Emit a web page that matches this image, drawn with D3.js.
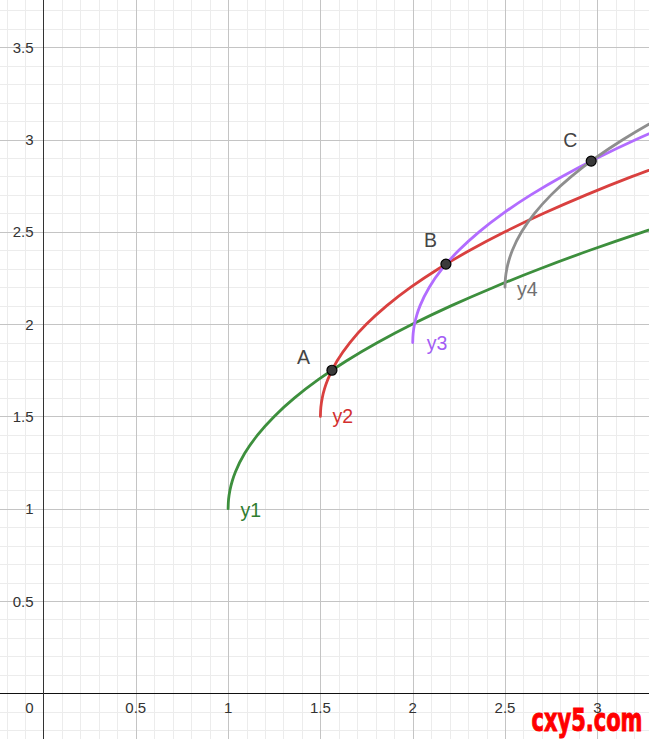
<!DOCTYPE html>
<html><head><meta charset="utf-8">
<script src="https://cdn.jsdelivr.net/npm/d3@7"></script>
<style>html,body{margin:0;padding:0;background:#fff;overflow:hidden}svg{display:block}</style>
</head><body>
<script>
// ---- data ----
const xTicks = [0.5, 1, 1.5, 2, 2.5, 3];
const yTicks = [0.5, 1, 1.5, 2, 2.5, 3, 3.5];
const curveY1 = [[1,1],[1.0025,1.05],[1.01,1.1],[1.0225,1.15],[1.04,1.2],[1.09,1.3],[1.16,1.4],[1.25,1.5],[1.36,1.6],[1.49,1.7],[1.64,1.8],[1.81,1.9],[2,2],[2.21,2.1],[2.44,2.2],[2.69,2.3],[2.96,2.4],[3.25,2.5],[3.56,2.6]];
const curveY2 = [[1.5,1.5],[1.5025,1.55],[1.51,1.6],[1.5225,1.65],[1.54,1.7],[1.59,1.8],[1.66,1.9],[1.75,2],[1.86,2.1],[1.99,2.2],[2.14,2.3],[2.31,2.4],[2.5,2.5],[2.71,2.6],[2.94,2.7],[3.19,2.8],[3.46,2.9]];
const curveY3 = [[2,1.9],[2.0025,1.95],[2.01,2],[2.0225,2.05],[2.04,2.1],[2.09,2.2],[2.16,2.3],[2.25,2.4],[2.36,2.5],[2.49,2.6],[2.64,2.7],[2.81,2.8],[3,2.9],[3.21,3],[3.44,3.1]];
const curveY4 = [[2.5,2.2],[2.5025,2.25],[2.51,2.3],[2.5225,2.35],[2.54,2.4],[2.59,2.5],[2.66,2.6],[2.75,2.7],[2.86,2.8],[2.99,2.9],[3.14,3],[3.31,3.1],[3.5,3.2]];
const curveNames = ["y1", "y2", "y3", "y4"];
const pointNames = ["A", "B", "C"];
const pointXY = [[1.5625,1.75],[2.18,2.325],[2.967,2.883]];

// ---- style / layout ----
const W = 649, H = 739;
const x0px = 43.5, y0px = 693.3, unit = 184.6;
const curveColors = ["#3d8f3d", "#d9403f", "#b26cff", "#8e8e8e"];
const labelColors = ["#2f7d2f", "#d32f2f", "#a35cf5", "#707070"];
const curveLabelOffsets = [[12.5, 8], [12, 6.5], [14, 7.5], [12, 9]];
const pointLabelOffsets = [[-35,-6],[-22,-17],[-28,-14]];

const x = d3.scaleLinear().domain([0, 1]).range([x0px, x0px + unit]);
const y = d3.scaleLinear().domain([0, 1]).range([y0px, y0px - unit]);
const xMin = x.invert(0), xMax = x.invert(W), yMin = y.invert(H), yMax = y.invert(0);

const svg = d3.select("body").append("svg").attr("width", W).attr("height", H)
  .style("font-family", "'Liberation Sans', Arial, sans-serif");

// minor grid
const minorX = d3.range(Math.ceil(xMin*10), Math.floor(xMax*10)+1).map(d => d/10).filter(d => Math.round(d*10) % 5 !== 0);
const minorY = d3.range(Math.ceil(yMin*10), Math.floor(yMax*10)+1).map(d => d/10).filter(d => Math.round(d*10) % 5 !== 0);
const g = svg.append("g").attr("shape-rendering", "crispEdges");
g.selectAll(".mx").data(minorX).join("line").attr("x1", d => Math.round(x(d))+0.5).attr("x2", d => Math.round(x(d))+0.5)
  .attr("y1", 0).attr("y2", H).attr("stroke", "#ececec").attr("stroke-width", 1);
g.selectAll(".my").data(minorY).join("line").attr("y1", d => Math.round(y(d))+0.5).attr("y2", d => Math.round(y(d))+0.5)
  .attr("x1", 0).attr("x2", W).attr("stroke", "#ececec").attr("stroke-width", 1);
// major grid
const majorX = d3.range(Math.ceil(xMin*2), Math.floor(xMax*2)+1).map(d => d/2).filter(d => d !== 0);
const majorY = d3.range(Math.ceil(yMin*2), Math.floor(yMax*2)+1).map(d => d/2).filter(d => d !== 0);
g.selectAll(".Mx").data(majorX).join("line").attr("x1", d => Math.round(x(d))+0.5).attr("x2", d => Math.round(x(d))+0.5)
  .attr("y1", 0).attr("y2", H).attr("stroke", "#c4c4c4").attr("stroke-width", 1);
g.selectAll(".My").data(majorY).join("line").attr("y1", d => Math.round(y(d))+0.5).attr("y2", d => Math.round(y(d))+0.5)
  .attr("x1", 0).attr("x2", W).attr("stroke", "#c4c4c4").attr("stroke-width", 1);
// axes
g.append("line").attr("x1", 0).attr("x2", W).attr("y1", y(0)).attr("y2", y(0)).attr("stroke", "#111").attr("stroke-width", 1.5);
g.append("line").attr("x1", x(0)).attr("x2", x(0)).attr("y1", 0).attr("y2", H).attr("stroke", "#333").attr("stroke-width", 1.5);

// tick labels
svg.selectAll(".xt").data(xTicks).join("text").attr("x", d => x(d)).attr("y", y(0) + 19.5)
  .attr("text-anchor", "middle").attr("font-size", 15).attr("fill", "#333").text(d => d);
svg.selectAll(".yt").data(yTicks).join("text").attr("x", x(0) - 10).attr("y", d => y(d) + 5.5)
  .attr("text-anchor", "end").attr("font-size", 15).attr("fill", "#333").text(d => d);
svg.append("text").attr("x", x(0) - 10).attr("y", y(0) + 19.5).attr("text-anchor", "end")
  .attr("font-size", 15).attr("fill", "#333").text("0");

// curves
const curves = [curveY1, curveY2, curveY3, curveY4];
const line = d3.line().x(d => x(d[0])).y(d => y(d[1])).curve(d3.curveMonotoneY);
curves.forEach((c, i) => {
  svg.append("path").attr("d", line(c)).attr("fill", "none").attr("stroke", curveColors[i])
    .attr("stroke-width", 2.8).attr("stroke-linecap", "round");
});
curves.forEach((c, i) => {
  svg.append("text").attr("x", x(c[0][0]) + curveLabelOffsets[i][0]).attr("y", y(c[0][1]) + curveLabelOffsets[i][1])
    .attr("font-size", 19.5).attr("fill", labelColors[i]).text(curveNames[i]);
});

// points
svg.selectAll(".pt").data(pointXY).join("circle").attr("cx", d => x(d[0])).attr("cy", d => y(d[1]))
  .attr("r", 5).attr("fill", "#3a3a3a").attr("stroke", "#000").attr("stroke-width", 1.2);
svg.selectAll(".pl").data(pointXY).join("text")
  .attr("x", (d, i) => x(d[0]) + pointLabelOffsets[i][0]).attr("y", (d, i) => y(d[1]) + pointLabelOffsets[i][1])
  .attr("font-size", 19.5).attr("fill", "#444").text((d, i) => pointNames[i]);

// watermark
svg.append("text").attr("x", 531.5).attr("y", 730.5).attr("font-size", 32).attr("font-weight", "bold")
  .attr("font-family", "'Liberation Sans Narrow', 'DejaVu Sans Condensed', sans-serif")
  .attr("fill", "#ff0000").attr("stroke", "#ff0000").attr("stroke-width", 0.9)
  .attr("textLength", 111).attr("lengthAdjust", "spacingAndGlyphs").text("cxy5.com");
</script>
</body></html>
